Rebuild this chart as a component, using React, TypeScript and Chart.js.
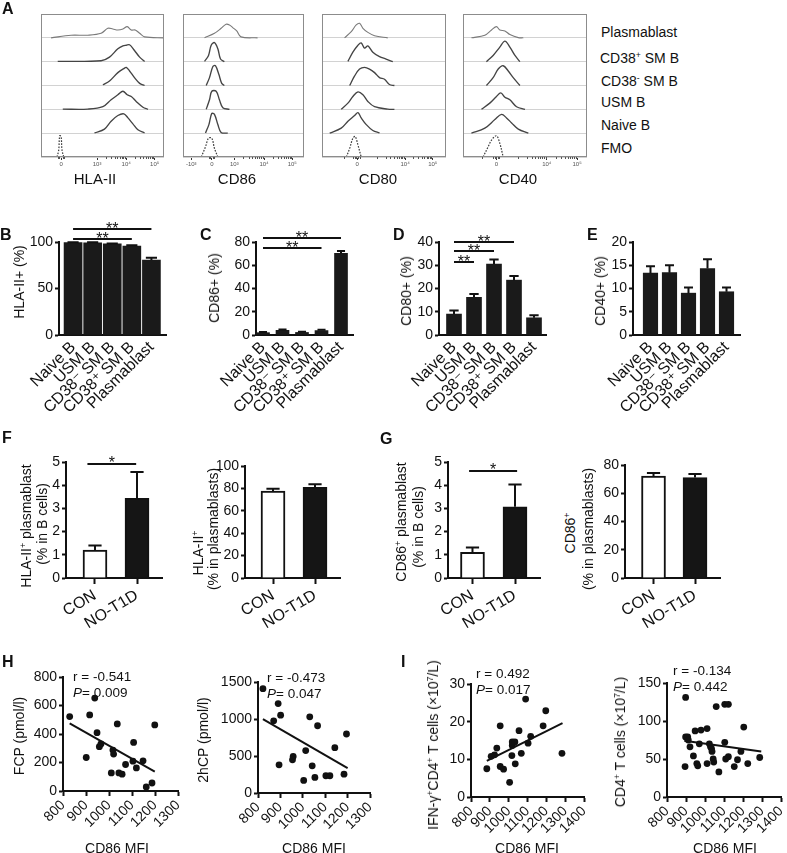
import React, { useEffect, useRef } from "react";
import { Chart, registerables } from "chart.js";
Chart.register(...registerables);

const FONT = "Arial, 'Liberation Sans', 'DejaVu Sans', sans-serif";
Chart.defaults.font.family = FONT;
Chart.defaults.color = "#111";

// ---------------- Panel A: flow histograms (x in display %, h = fraction of row) ----------------
const HIST_ROWS = ["FMO", "Naive B", "USM B", "CD38⁻ SM B", "CD38⁺ SM B", "Plasmablast"];

const HLA_FMO = [[13, 0], [14.4, 0.29], [15.2, 0.89], [16.3, 0.86], [17.1, 0.29], [18.5, 0]];
const HLA_NAIVE = [[43.5, 0.01], [51.6, 0.17], [57, 0.5], [62.5, 0.74], [67.4, 0.81], [70.7, 0.64], [74.7, 0.39], [78.8, 0.14], [84.2, 0.01]];
const HLA_USM = [[17.7, 0.01], [38, 0.01], [50.3, 0.11], [57, 0.4], [62.5, 0.61], [66.6, 0.76], [70.1, 0.61], [73.4, 0.54], [77.4, 0.33], [82.9, 0.09], [87, 0]];
const HLA_CD38N = [[50.3, 0.03], [55.7, 0.19], [62.5, 0.54], [67.4, 0.71], [69.3, 0.76], [72, 0.61], [76, 0.33], [80.2, 0.09], [84.2, 0]];
const HLA_CD38P = [[13.6, 0.01], [48.9, 0.04], [55.7, 0.19], [62.5, 0.54], [66.6, 0.66], [69.3, 0.69], [72, 0.71], [76, 0.47], [80.2, 0.19], [84.2, 0.01]];
const HLA_PB = [[8.2, 0], [24.5, 0.11], [38, 0.11], [48.9, 0.19], [54.3, 0.4], [58.4, 0.37], [62.5, 0.33], [66.6, 0.37], [70.1, 0.47], [73.4, 0.33], [76.6, 0.33], [80.2, 0.19], [84.2, 0.04], [100, 0]];

const CD86_FMO = [[15.1, 0], [18.6, 0.43], [21.1, 0.79], [23.8, 0.79], [26, 0.36], [28.8, 0]];
const CD86_NAIVE = [[18.6, 0.01], [21.4, 0.36], [23.8, 0.83], [26, 0.79], [28.8, 0.36], [31.5, 0.03], [37, 0]];
const CD86_USM = [[19.2, 0], [21.9, 0.4], [23.8, 0.76], [27.4, 0.76], [30.1, 0.4], [32.9, 0.07], [38.4, 0]];
const CD86_CD38N = [[19.2, 0], [21.9, 0.33], [24.7, 0.8], [26.8, 0.83], [29.6, 0.47], [32, 0.09], [34.2, 0]];
const CD86_CD38P = [[17.8, 0.01], [21.1, 0.26], [23.3, 0.69], [26, 0.8], [28.8, 0.54], [31, 0.11], [34.2, 0]];
const CD86_PB = [[17.8, 0], [26, 0.19], [31.5, 0.4], [35.6, 0.57], [38.4, 0.54], [41.1, 0.43], [44.4, 0.29], [47.9, 0.04], [61.6, 0]];

const CD80_FMO = [[19.6, 0], [22.3, 0.36], [24.9, 0.79], [26.8, 0.86], [29, 0.5], [31.6, 0]];
const CD80_NAIVE = [[6.2, 0], [15.5, 0.21], [20.9, 0.5], [26.3, 0.74], [29, 0.86], [31.6, 0.64], [35.7, 0.36], [41, 0.11], [46.4, 0.01]];
const CD80_USM = [[15.5, 0], [20.9, 0.26], [24.9, 0.54], [29, 0.73], [33, 0.61], [37, 0.33], [42.4, 0.11], [53, 0.01], [58.4, 0]];
const CD80_CD38N = [[22.3, 0], [26.3, 0.4], [30.3, 0.69], [34.3, 0.76], [38.3, 0.69], [42.4, 0.54], [46.4, 0.33], [50.4, 0.26], [54.4, 0.04], [58.4, 0]];
const CD80_CD38P = [[20.9, 0.01], [24.9, 0.4], [29, 0.69], [31.6, 0.79], [34.3, 0.57], [37, 0.66], [41, 0.4], [46.4, 0.21], [51.7, 0.11], [57.1, 0]];
const CD80_PB = [[18.2, 0], [23.6, 0.26], [27.6, 0.54], [30.3, 0.61], [33, 0.4], [37, 0.23], [42.4, 0.09], [53, 0]];

const CD40_FMO = [[16.2, 0], [20.3, 0.43], [23, 0.71], [27, 0.89], [29.7, 0.57], [32.4, 0]];
const CD40_NAIVE = [[6.8, 0], [17.6, 0.21], [25.7, 0.57], [31.1, 0.79], [35.1, 0.64], [39.2, 0.43], [44.6, 0.17], [52.7, 0]];
const CD40_USM = [[14.9, 0], [21.6, 0.26], [27, 0.54], [30.5, 0.69], [33.8, 0.51], [37.8, 0.4], [43.2, 0.11], [50, 0]];
const CD40_CD38N = [[18.9, 0], [24.3, 0.33], [28.4, 0.69], [32.4, 0.83], [36.5, 0.61], [40.5, 0.33], [45.9, 0]];
const CD40_CD38P = [[18.9, 0], [24.3, 0.26], [29.7, 0.61], [33.8, 0.86], [37.8, 0.61], [41.9, 0.26], [45.9, 0]];
const CD40_PB = [[6.8, 0], [17.6, 0.11], [23, 0.33], [27, 0.47], [29.7, 0.33], [33.8, 0.29], [37.8, 0.14], [44.6, 0.01], [48.6, 0]];

const HLA_TICKS = [16.3, 45.6, 69.3, 92.4];
const HLA_TICK_LABELS = ["0", "10³", "10⁴", "10⁵"];
const CD86_TICKS = [6.8, 23.8, 42.4, 67, 90.3];
const CD86_TICK_LABELS = ["-10³", "0", "10³", "10⁴", "10⁵"];
const CD80_TICKS = [28.4, 67, 89.3];
const CD80_TICK_LABELS = ["0", "10⁴", "10⁵"];
const CD40_TICKS = [27, 67.6, 92];
const CD40_TICK_LABELS = ["0", "10⁴", "10⁵"];

// ---------------- Panels B-E ----------------
const SUBSETS = ["Naive B", "USM B", "CD38⁻ SM B", "CD38⁺ SM B", "Plasmablast"];
const HLA_POS = [99.5, 99.2, 98, 95.7, 80.6];
const HLA_POS_SEM = [0.3, 0.4, 0.5, 0.8, 2.4];
const CD86_POS = [2, 4, 2.2, 3.8, 70.3];
const CD86_POS_SEM = [0.5, 0.8, 0.5, 0.8, 2];
const CD80_POS = [9.0, 16.2, 30.5, 23.6, 7.4];
const CD80_POS_SEM = [1.5, 1.4, 2.0, 1.8, 1.1];
const CD40_POS = [13.3, 13.4, 9.0, 14.3, 9.3];
const CD40_POS_SEM = [1.5, 1.6, 1.2, 2.0, 0.9];
const HLA_SIG = [{ from: 0, to: 4, y: 114, text: "**" }, { from: 0, to: 3, y: 103, text: "**" }];
const CD86_SIG = [{ from: 0, to: 4, y: 83.2, text: "**" }, { from: 0, to: 3, y: 74.8, text: "**" }];
const CD80_SIG = [{ from: 0, to: 3, y: 40.1, text: "**" }, { from: 0, to: 2, y: 36.1, text: "**" }, { from: 0, to: 1, y: 31.3, text: "**" }];

// ---------------- Panels F-G ----------------
const GROUPS = ["CON", "NO-T1D"];
const GROUP_FILL = ["#ffffff", "#151515"];
const HLA_PB_IN_B = [1.2, 3.43];
const HLA_PB_IN_B_SEM = [0.2, 1.14];
const HLA_IN_PB = [77.5, 81];
const HLA_IN_PB_SEM = [2.2, 2.6];
const CD86_PB_IN_B = [1.11, 3.07];
const CD86_PB_IN_B_SEM = [0.2, 0.96];
const CD86_IN_PB = [72.2, 71.1];
const CD86_IN_PB_SEM = [2.2, 2.5];
const F_SIG = [{ from: 0.82, to: 1.98, y: 4.93, text: "*" }];
const G_SIG = [{ from: 0.92, to: 2.05, y: 4.61, text: "*" }];

// ---------------- Panels H-I (x = CD86 MFI) ----------------
const FCP_PTS = [[829, 522], [916, 534], [938, 652], [901, 235], [948, 409], [958, 311], [965, 330], [1017, 287], [1020, 259], [1036, 471], [1010, 127], [1043, 127], [1057, 118], [1072, 186], [1107, 341], [1104, 209], [1119, 162], [1148, 212], [1162, 28], [1187, 56], [1199, 464]];
const FCP_FIT = [[829, 475], [1199, 136]];
const HCP2_PTS = [[822, 1410], [870, 976], [890, 1209], [901, 1052], [894, 381], [957, 493], [954, 448], [1031, 1030], [1066, 909], [1013, 573], [1004, 170], [1042, 367], [1054, 210], [1103, 233], [1121, 233], [1143, 613], [1184, 255], [1195, 797]];
const HCP2_FIT = [[822, 999], [1200, 336]];
const IFN_PTS = [[884, 7.5], [907, 10.8], [925, 11.2], [937, 13.0], [955, 18.9], [955, 8.1], [973, 7.4], [1005, 3.9], [1019, 13.7], [1017, 11.0], [1019, 14.6], [1033, 14.6], [1035, 8.8], [1055, 17.6], [1067, 11.6], [1103, 14.3], [1117, 16.1], [1090, 26.0], [1183, 18.9], [1197, 22.9], [1283, 11.6]];
const IFN_FIT = [[884, 9.6], [1286, 19.6]];
const CD4_PTS = [[898, 131], [895, 40], [898, 79], [909, 79], [912, 75], [921, 66], [939, 54], [948, 87], [957, 44], [962, 41], [970, 70], [979, 88], [1011, 90], [1011, 44], [1023, 70], [1029, 66], [1034, 64], [1037, 60], [1043, 50], [1046, 46], [1059, 119], [1073, 33], [1104, 122], [1123, 122], [1104, 72], [1109, 50], [1123, 53], [1154, 40], [1171, 49], [1189, 60], [1204, 92], [1225, 44], [1288, 52]];
const CD4_FIT = [[891, 74], [1296, 60]];

// ---------------- helpers ----------------
const INK = "#111";
const tickFont = { size: 14, family: FONT };
const catFont = { size: 16, family: FONT };

function makeAnnot(o: any) {
  return {
    id: "annot",
    afterDatasetsDraw(chart: any) {
      const ctx = chart.ctx;
      const xs = chart.scales.x;
      const ys = chart.scales.y;
      const a = chart.chartArea;
      ctx.save();
      if (o.box) {
        ctx.strokeStyle = "#8c8c8c";
        ctx.lineWidth = 1;
        ctx.strokeRect(Math.round(a.left) + 0.5, Math.round(a.top) + 0.5, Math.round(a.right - a.left) - 1, Math.round(a.bottom - a.top) - 1);
      }
      if (o.minor) {
        ctx.strokeStyle = "#555";
        ctx.lineWidth = 1;
        o.minor.forEach((v: number) => {
          const x = Math.round(xs.getPixelForValue(v)) + 0.5;
          ctx.beginPath();
          ctx.moveTo(x, a.bottom);
          ctx.lineTo(x, a.bottom + 2);
          ctx.stroke();
        });
      }
      if (o.errors) {
        ctx.strokeStyle = INK;
        ctx.lineWidth = 2;
        const meta = chart.getDatasetMeta(0);
        meta.data.forEach((bar: any, i: number) => {
          const v = chart.data.datasets[0].data[i].y;
          const e = o.errors[i];
          const y0 = ys.getPixelForValue(v);
          const y1 = ys.getPixelForValue(v + e);
          const half = (bar.width * o.cap) / 2;
          ctx.beginPath();
          ctx.moveTo(bar.x, y0);
          ctx.lineTo(bar.x, y1);
          ctx.moveTo(bar.x - half, y1);
          ctx.lineTo(bar.x + half, y1);
          ctx.stroke();
        });
      }
      if (o.sig) {
        ctx.strokeStyle = INK;
        ctx.fillStyle = INK;
        ctx.lineWidth = 2;
        ctx.font = `16px ${FONT}`;
        ctx.textAlign = "center";
        ctx.textBaseline = "alphabetic";
        o.sig.forEach((s: any) => {
          const x0 = xs.getPixelForValue(s.from);
          const x1 = xs.getPixelForValue(s.to);
          const y = Math.round(ys.getPixelForValue(s.y));
          ctx.beginPath();
          ctx.moveTo(x0, y);
          ctx.lineTo(x1, y);
          ctx.stroke();
          ctx.fillText(s.text, (x0 + x1) / 2, y + (o.starOff ?? 4));
        });
      }
      ctx.restore();
    },
  };
}

function zeroPad(s: any) {
  s.paddingLeft = 0;
  s.paddingRight = 0;
  s.paddingTop = 0;
  s.paddingBottom = 0;
}

type Rect = { l: number; t: number; r: number; b: number };
type Marg = { L: number; T: number; R: number; B: number };

function ChartBox({ rect, m, make }: { rect: Rect; m: Marg; make: () => any }) {
  const ref = useRef<HTMLCanvasElement>(null);
  const w = rect.r - rect.l + m.L + m.R;
  const h = rect.b - rect.t + m.T + m.B;
  useEffect(() => {
    const cfg = make();
    const o = cfg.options;
    o.responsive = false;
    o.animation = false;
    o.devicePixelRatio = 1;
    o.layout = { padding: { left: 0, top: m.T, right: m.R, bottom: 0 } };
    o.plugins = { legend: { display: false }, tooltip: { enabled: false } };
    o.scales.x.afterFit = (s: any) => {
      s.height = m.B;
      zeroPad(s);
    };
    o.scales.y.afterFit = (s: any) => {
      s.width = m.L;
      zeroPad(s);
    };
    const c = new Chart(ref.current as HTMLCanvasElement, cfg);
    return () => c.destroy();
  }, []);
  return (
    <canvas
      ref={ref}
      width={w}
      height={h}
      style={{ position: "absolute", left: rect.l - m.L, top: rect.t - m.T, width: w, height: h }}
    />
  );
}

const numCb = (v: any) => String(v);

function yAxis(max: number, step: number) {
  return {
    min: 0,
    max,
    ticks: { stepSize: step, padding: 2, font: tickFont, color: INK, callback: numCb },
    grid: { drawOnChartArea: false, drawTicks: true, tickLength: 4, tickWidth: 2, tickColor: INK },
    border: { display: true, color: INK, width: 2 },
  };
}

function logMinor(a: number, b: number) {
  const out: number[] = [];
  for (let k = 2; k <= 9; k++) out.push(a + Math.log10(k) * (b - a));
  return out;
}

function histCfg(rows: number[][][], majors: number[], labels: string[], minor: number[]) {
  return {
    type: "line",
    data: {
      datasets: rows.map((pts, r) => ({
        data: pts.map(([x, hh]) => ({ x, y: r + hh })),
        borderColor: r === 0 ? "#3a3a3a" : r === 5 ? "#7a7a7a" : "#444",
        borderWidth: r === 0 ? 1.2 : r === 5 ? 1.1 : 1.35,
        borderDash: r === 0 ? [1.6, 1.4] : [],
        pointRadius: 0,
        tension: 0.35,
        fill: false,
      })),
    },
    options: {
      scales: {
        x: {
          type: "linear",
          min: 0,
          max: 100,
          afterBuildTicks: (s: any) => {
            s.ticks = majors.map((v) => ({ value: v }));
          },
          ticks: { autoSkip: false, maxRotation: 0, minRotation: 0, padding: 1, font: { size: 6 }, color: "#555", callback: (v: any) => labels[majors.indexOf(v)] },
          grid: { drawOnChartArea: false, drawTicks: true, tickLength: 3, tickWidth: 1, tickColor: "#333" },
          border: { display: false },
        },
        y: {
          min: 0,
          max: 6,
          ticks: { display: false, stepSize: 1 },
          grid: { color: "#d2d2d2", lineWidth: 1, drawTicks: false },
          border: { display: false },
        },
      },
    },
    plugins: [makeAnnot({ box: true, minor })],
  };
}

function subsetCfg(vals: number[], sem: number[], ymax: number, step: number, xmin: number, xmax: number, thick: number, sig: any[] | null) {
  return {
    type: "bar",
    data: { datasets: [{ data: vals.map((v, i) => ({ x: i, y: v })), backgroundColor: "#1a1a1a", borderWidth: 0, barThickness: thick }] },
    options: {
      scales: {
        x: {
          type: "linear",
          min: xmin,
          max: xmax,
          offset: false,
          afterBuildTicks: (s: any) => {
            s.ticks = SUBSETS.map((_, i) => ({ value: i }));
          },
          ticks: { autoSkip: false, minRotation: 45, maxRotation: 45, padding: 3, font: catFont, color: INK, callback: (v: any) => SUBSETS[v] },
          grid: { display: false, drawTicks: false, offset: false },
          border: { display: true, color: INK, width: 2 },
        },
        y: yAxis(ymax, step),
      },
    },
    plugins: [makeAnnot({ errors: sem, cap: 0.62, sig, starOff: 5 })],
  };
}

function groupCfg(vals: number[], sem: number[], ymax: number, step: number, xmin: number, xmax: number, sig: any[] | null) {
  return {
    type: "bar",
    data: {
      datasets: [{ data: vals.map((v, i) => ({ x: i + 1, y: v })), backgroundColor: GROUP_FILL, borderColor: INK, borderWidth: 2, barThickness: 24 }],
    },
    options: {
      scales: {
        x: {
          type: "linear",
          min: xmin,
          max: xmax,
          offset: false,
          afterBuildTicks: (s: any) => {
            s.ticks = GROUPS.map((_, i) => ({ value: i + 1 }));
          },
          ticks: { autoSkip: false, minRotation: 31, maxRotation: 31, padding: 2, font: catFont, color: INK, callback: (v: any) => GROUPS[v - 1] },
          grid: { drawOnChartArea: false, drawTicks: true, tickLength: 6, tickWidth: 2, tickColor: INK, offset: false },
          border: { display: true, color: INK, width: 2 },
        },
        y: yAxis(ymax, step),
      },
    },
    plugins: [makeAnnot({ errors: sem, cap: 0.55, sig, starOff: 4 })],
  };
}

function scatterCfg(pts: number[][], fit: number[][], xmin: number, xmax: number, ymax: number, ystep: number) {
  return {
    type: "scatter",
    data: {
      datasets: [
        { type: "line", data: fit.map(([x, y]) => ({ x, y })), borderColor: INK, borderWidth: 2, pointRadius: 0, fill: false },
        { data: pts.map(([x, y]) => ({ x, y })), backgroundColor: INK, borderWidth: 0, pointRadius: 3.4 },
      ],
    },
    options: {
      scales: {
        x: {
          type: "linear",
          min: xmin,
          max: xmax,
          ticks: { stepSize: 100, minRotation: 45, maxRotation: 45, padding: 1, font: tickFont, color: INK, callback: numCb, autoSkip: false },
          grid: { drawOnChartArea: false, drawTicks: true, tickLength: 5, tickWidth: 2, tickColor: INK },
          border: { display: true, color: INK, width: 2 },
        },
        y: yAxis(ymax, ystep),
      },
    },
  };
}

// ---------------- text helpers ----------------
function Txt({ x, y, s = 14, bold = false, c = "l", rot = false, children }: any) {
  const tr = rot ? "translate(-50%,-50%) rotate(-90deg)" : c === "c" ? "translate(-50%,-50%)" : "translate(0,-50%)";
  return (
    <div
      style={{
        position: "absolute",
        left: x,
        top: y,
        transform: tr,
        fontSize: s,
        fontWeight: bold ? 700 : 400,
        fontFamily: FONT,
        lineHeight: 1,
        whiteSpace: "nowrap",
        color: INK,
      }}
    >
      {children}
    </div>
  );
}
const Sup = ({ children }: any) => <span style={{ fontSize: "0.62em", position: "relative", top: "-0.55em" }}>{children}</span>;

const HM: Marg = { L: 3, T: 2, R: 3, B: 14 };

export default function App() {
  const hlaMinor = [...logMinor(45.6, 69.3), ...logMinor(69.3, 92.4), 14, 15, 17.5, 18.5];
  const cd86Minor = [...logMinor(42.4, 67), ...logMinor(67, 90.3), 21.5, 22.5, 25, 26];
  const cd80Minor = [44.5, ...logMinor(44.5, 67), ...logMinor(67, 89.3), 18, 25, 26.5, 27.5, 29.3, 30.3];
  const cd40Minor = [44.5, ...logMinor(44.5, 67.6), ...logMinor(67.6, 92), 15, 24, 25.5, 26.3, 28, 29];

  return (
    <div style={{ position: "absolute", left: 0, top: 0, width: 787, height: 853, overflow: "hidden", background: "#fff", fontFamily: FONT }}>
      {/* Panel A */}
      <ChartBox rect={{ l: 41, t: 14, r: 164, b: 157 }} m={HM} make={() => histCfg([HLA_FMO, HLA_NAIVE, HLA_USM, HLA_CD38N, HLA_CD38P, HLA_PB], HLA_TICKS, HLA_TICK_LABELS, hlaMinor)} />
      <ChartBox rect={{ l: 183, t: 14, r: 304, b: 157 }} m={HM} make={() => histCfg([CD86_FMO, CD86_NAIVE, CD86_USM, CD86_CD38N, CD86_CD38P, CD86_PB], CD86_TICKS, CD86_TICK_LABELS, cd86Minor)} />
      <ChartBox rect={{ l: 322, t: 14, r: 446, b: 157 }} m={HM} make={() => histCfg([CD80_FMO, CD80_NAIVE, CD80_USM, CD80_CD38N, CD80_CD38P, CD80_PB], CD80_TICKS, CD80_TICK_LABELS, cd80Minor)} />
      <ChartBox rect={{ l: 463, t: 14, r: 587, b: 157 }} m={HM} make={() => histCfg([CD40_FMO, CD40_NAIVE, CD40_USM, CD40_CD38N, CD40_CD38P, CD40_PB], CD40_TICKS, CD40_TICK_LABELS, cd40Minor)} />
      <Txt x={95} y={178} s={15} c="c">HLA-II</Txt>
      <Txt x={237} y={178} s={15} c="c">CD86</Txt>
      <Txt x={378} y={178} s={15} c="c">CD80</Txt>
      <Txt x={518} y={178} s={15} c="c">CD40</Txt>
      <Txt x={601} y={32}>{HIST_ROWS[5]}</Txt>
      <Txt x={600} y={58}>CD38<Sup>+</Sup> SM B</Txt>
      <Txt x={601} y={81}>CD38<Sup>-</Sup> SM B</Txt>
      <Txt x={601} y={102}>{HIST_ROWS[2]}</Txt>
      <Txt x={601} y={125}>{HIST_ROWS[1]}</Txt>
      <Txt x={601} y={148}>{HIST_ROWS[0]}</Txt>

      {/* Panels B-E */}
      <ChartBox rect={{ l: 59, t: 242, r: 166, b: 335 }} m={{ L: 55, T: 30, R: 6, B: 80 }} make={() => subsetCfg(HLA_POS, HLA_POS_SEM, 100, 50, -0.718, 4.744, 18, HLA_SIG)} />
      <ChartBox rect={{ l: 256, t: 242, r: 353, b: 335 }} m={{ L: 55, T: 30, R: 6, B: 80 }} make={() => subsetCfg(CD86_POS, CD86_POS_SEM, 80, 20, -0.359, 4.615, 13, CD86_SIG)} />
      <ChartBox rect={{ l: 439, t: 242, r: 546, b: 335 }} m={{ L: 45, T: 30, R: 6, B: 80 }} make={() => subsetCfg(CD80_POS, CD80_POS_SEM, 40, 10, -0.75, 4.6, 15, CD80_SIG)} />
      <ChartBox rect={{ l: 633, t: 242, r: 740, b: 335 }} m={{ L: 45, T: 30, R: 6, B: 80 }} make={() => subsetCfg(CD40_POS, CD40_POS_SEM, 20, 5, -0.92, 4.71, 14.5, null)} />
      <Txt x={19} y={282} rot>HLA-II+ (%)</Txt>
      <Txt x={214} y={288} rot>CD86+ (%)</Txt>
      <Txt x={406} y={291} rot>CD80+ (%)</Txt>
      <Txt x={600} y={291} rot>CD40+ (%)</Txt>

      {/* Panels F-G */}
      <ChartBox rect={{ l: 66, t: 462, r: 162, b: 578 }} m={{ L: 45, T: 20, R: 6, B: 95 }} make={() => groupCfg(HLA_PB_IN_B, HLA_PB_IN_B_SEM, 5, 1, 0.31, 2.595, F_SIG)} />
      <ChartBox rect={{ l: 245, t: 466, r: 340, b: 578 }} m={{ L: 45, T: 20, R: 6, B: 95 }} make={() => groupCfg(HLA_IN_PB, HLA_IN_PB_SEM, 100, 20, 0.333, 2.595, null)} />
      <ChartBox rect={{ l: 448, t: 462, r: 540, b: 578 }} m={{ L: 45, T: 20, R: 6, B: 95 }} make={() => groupCfg(CD86_PB_IN_B, CD86_PB_IN_B_SEM, 5, 1, 0.424, 2.588, G_SIG)} />
      <ChartBox rect={{ l: 625, t: 465, r: 720, b: 578 }} m={{ L: 45, T: 20, R: 6, B: 95 }} make={() => groupCfg(CD86_IN_PB, CD86_IN_PB_SEM, 80, 20, 0.313, 2.602, null)} />
      <Txt x={26} y={526} rot>HLA-II<Sup>+</Sup> plasmablast</Txt>
      <Txt x={42} y={524} rot>(% in B cells)</Txt>
      <Txt x={198} y={553} rot>HLA-II<Sup>+</Sup></Txt>
      <Txt x={213} y={529} rot>(% in plasmablasts)</Txt>
      <Txt x={401} y={522} rot>CD86<Sup>+</Sup> plasmablast</Txt>
      <Txt x={418} y={527} rot>(% in B cells)</Txt>
      <Txt x={570} y={533} rot>CD86<Sup>+</Sup></Txt>
      <Txt x={588} y={529} rot>(% in plasmablasts)</Txt>

      {/* Panels H-I */}
      <ChartBox rect={{ l: 63, t: 677, r: 178, b: 791 }} m={{ L: 55, T: 10, R: 8, B: 70 }} make={() => scatterCfg(FCP_PTS, FCP_FIT, 800, 1300, 800, 200)} />
      <ChartBox rect={{ l: 258, t: 682, r: 370, b: 793 }} m={{ L: 50, T: 10, R: 8, B: 70 }} make={() => scatterCfg(HCP2_PTS, HCP2_FIT, 800, 1300, 1500, 500)} />
      <ChartBox rect={{ l: 471, t: 684, r: 584, b: 797 }} m={{ L: 32, T: 10, R: 8, B: 70 }} make={() => scatterCfg(IFN_PTS, IFN_FIT, 800, 1400, 30, 10)} />
      <ChartBox rect={{ l: 667, t: 683, r: 781, b: 797 }} m={{ L: 40, T: 10, R: 5, B: 70 }} make={() => scatterCfg(CD4_PTS, CD4_FIT, 800, 1400, 150, 50)} />
      <Txt x={19} y={736} rot>FCP (pmol/l)</Txt>
      <Txt x={203} y={740} rot>2hCP (pmol/l)</Txt>
      <Txt x={433} y={745} rot>IFN-γ<Sup>+</Sup>CD4<Sup>+</Sup> T cells (×10<Sup>7</Sup>/L)</Txt>
      <Txt x={620} y={742} rot>CD4<Sup>+</Sup> T cells (×10<Sup>7</Sup>/L)</Txt>
      <Txt x={117} y={848} c="c">CD86 MFI</Txt>
      <Txt x={314} y={848} c="c">CD86 MFI</Txt>
      <Txt x={527} y={848} c="c">CD86 MFI</Txt>
      <Txt x={725} y={848} c="c">CD86 MFI</Txt>
      <Txt x={73} y={677} s={13.5}>r = -0.541</Txt>
      <Txt x={73} y={693} s={13.5}><i>P</i>= 0.009</Txt>
      <Txt x={267} y={678} s={13.5}>r = -0.473</Txt>
      <Txt x={267} y={694} s={13.5}><i>P</i>= 0.047</Txt>
      <Txt x={476} y={674} s={13.5}>r = 0.492</Txt>
      <Txt x={476} y={690} s={13.5}><i>P</i>= 0.017</Txt>
      <Txt x={673} y={671} s={13.5}>r = -0.134</Txt>
      <Txt x={673} y={687} s={13.5}><i>P</i>= 0.442</Txt>

      {/* panel letters */}
      <Txt x={2} y={9} s={16} bold>A</Txt>
      <Txt x={0} y={235} s={16} bold>B</Txt>
      <Txt x={200} y={235} s={16} bold>C</Txt>
      <Txt x={393} y={235} s={16} bold>D</Txt>
      <Txt x={587} y={235} s={16} bold>E</Txt>
      <Txt x={2} y={438} s={16} bold>F</Txt>
      <Txt x={380} y={439} s={16} bold>G</Txt>
      <Txt x={2} y={662} s={16} bold>H</Txt>
      <Txt x={401} y={662} s={16} bold>I</Txt>
    </div>
  );
}
